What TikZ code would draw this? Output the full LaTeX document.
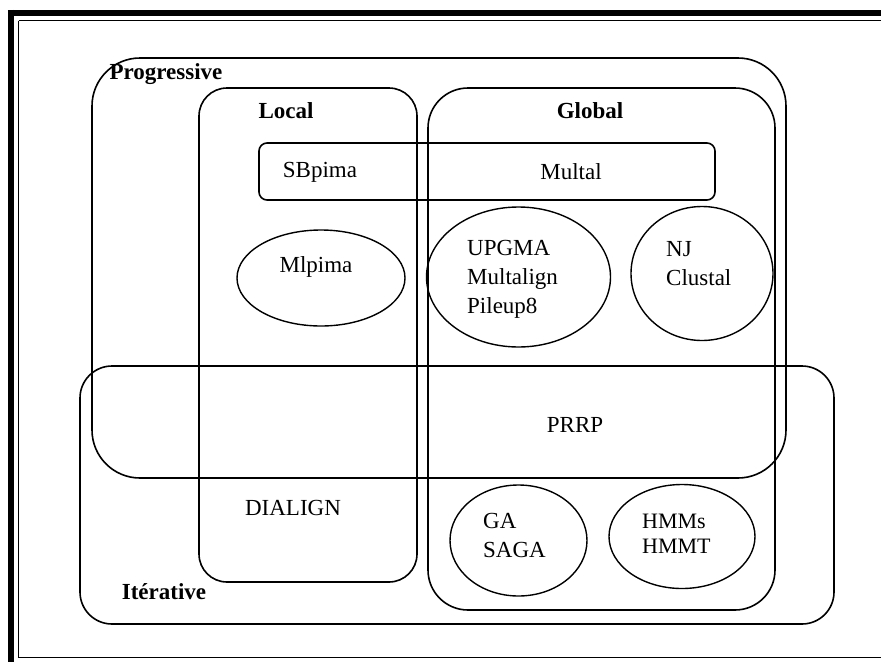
\documentclass[tikz,border=0pt]{standalone}
\usepackage{fontspec}
\setmainfont{Liberation Serif}
\usetikzlibrary{shapes.geometric}
\begin{document}
\begin{tikzpicture}[x=1pt,y=-1pt,
  region/.style={draw, line width=1.6pt, minimum width=#1, inner sep=0pt},
  oval/.style={draw, ellipse, line width=1.4pt, inner sep=0pt},
  lbl/.style={font=\fontsize{23}{29}\selectfont, inner sep=0pt},
  blbl/.style={font=\fontsize{23}{29}\selectfont\bfseries, inner sep=0pt},
  lft/.style={lbl, align=left, anchor=west}]
\useasboundingbox (0,0) rectangle (881,662);
% page frame
\draw[line width=6.5pt] (7.75,13) -- (881,13);
\draw[line width=6.5pt] (11,9.75) -- (11,662);
\draw[line width=1.3pt] (18.5,20.5) -- (881,20.5);
\draw[line width=1.3pt] (18.5,20.5) -- (18.5,657.5) -- (881,657.5);
% regions
\node[region=694pt, minimum height=420pt, rounded corners=48pt] (prog) at (439,268) {};
\node[region=218pt, minimum height=494pt, rounded corners=28pt] (local) at (308,335) {};
\node[region=347pt, minimum height=522pt, rounded corners=40pt] (global) at (601.5,349) {};
\node[region=754pt, minimum height=258pt, rounded corners=32pt] (iter) at (457,495) {};
\node[region=456pt, minimum height=57pt, rounded corners=8pt] (mbox) at (487,171.5) {};
% ellipses
\node[oval, minimum width=168pt, minimum height=96pt] (e1) at (321,278) {};
\node[oval, minimum width=184pt, minimum height=140pt] (e2) at (518.5,277) {};
\node[oval, minimum width=142pt, minimum height=134pt] (e3) at (702,273.5) {};
\node[oval, minimum width=137pt, minimum height=111pt] (e4) at (518.5,540.5) {};
\node[oval, minimum width=146pt, minimum height=104pt] (e5) at (682,536.5) {};
% labels
\node[blbl] (tprog) at (166,74) {Progressive};
\node[blbl] (tlocal) at (286,111) {Local};
\node[blbl] (tglobal) at (590,111) {Global};
\node[blbl] (titer) at (164,592) {Itérative};
\node[lbl] (tsb) at (320,172) {SBpima};
\node[lbl] (tmu) at (571,172) {Multal};
\node[lbl] (tml) at (316,267) {Mlpima};
\node[lft] (tup) at (467,279) {UPGMA\\Multalign\\Pileup8};
\node[lft] (tnj) at (666,264) {NJ\\Clustal};
\node[lbl] (tprrp) at (575,425) {PRRP};
\node[lbl] (tdia) at (293,508) {DIALIGN};
\node[lft] (tga) at (483,535) {GA\\SAGA};
\node[lft, font=\fontsize{22}{25}\selectfont] (thmm) at (642,534) {HMMs\\HMMT};
\end{tikzpicture}
\end{document}
